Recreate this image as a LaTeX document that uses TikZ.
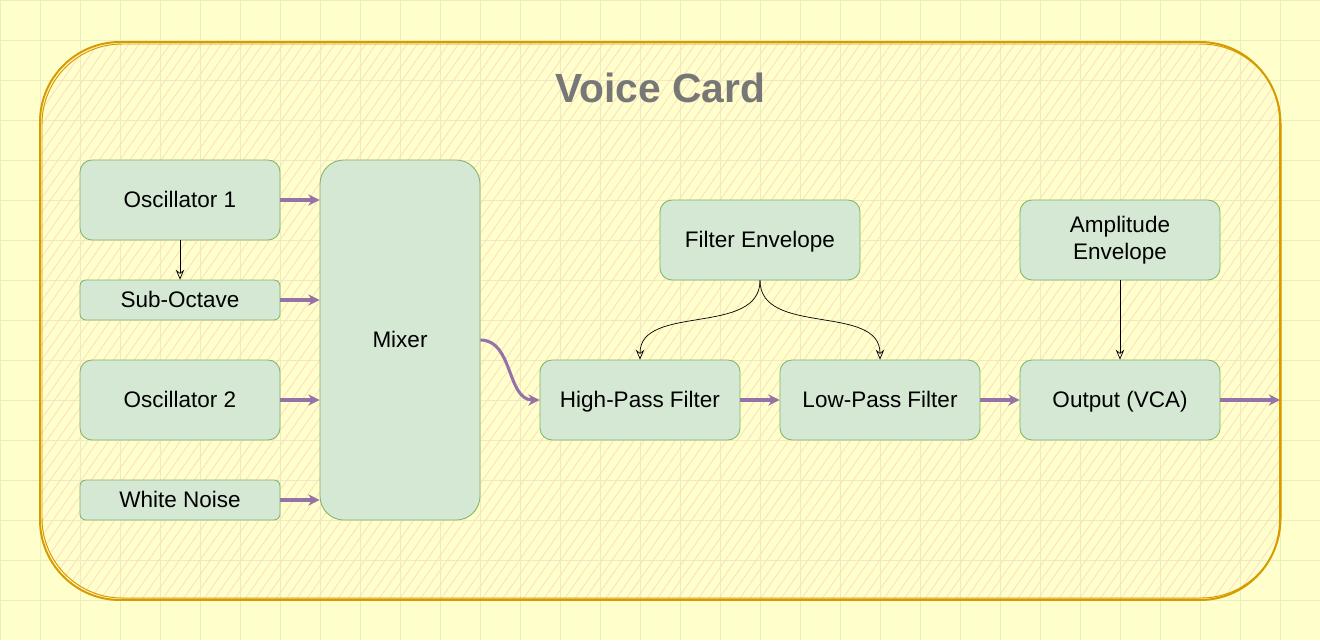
\documentclass[tikz,border=0pt]{standalone}
\usepackage{fontspec}
\setmainfont{Liberation Sans}
\usetikzlibrary{arrows.meta,patterns.meta}
\definecolor{bgyellow}{HTML}{FFFFCC}
\definecolor{gridline}{HTML}{ECECC2}
\definecolor{cardline}{HTML}{D79B00}
\definecolor{hatch}{HTML}{FFDCC4}
\definecolor{boxfill}{HTML}{D5E8D4}
\definecolor{boxline}{HTML}{82B366}
\definecolor{sigline}{HTML}{9673A6}
\definecolor{titlegray}{HTML}{777777}

\begin{document}
\begin{tikzpicture}[x=0.025cm,y=-0.025cm,
		base/.style={fill=boxfill, draw=boxline, line width=0.6pt, rounded corners=3mm, minimum width=5cm, minimum height=2cm, align=center, font=\fontsize{16}{19}\selectfont},
		block/.style={base, text height=1em, text depth=0em},
		slim/.style={block, minimum height=1cm, rounded corners=1.5mm},
		sig/.style={draw=sigline, line width=2.2pt, -{Stealth[length=8pt,width=8pt]}},
		mod/.style={draw=black, line width=0.5pt, -{Stealth[open,length=7pt,width=6pt]}}]
		\fill[bgyellow] (0,0) rectangle (1320,640);
		\useasboundingbox (0,0) rectangle (1320,640);
		\draw[gridline, line width=0.6pt] (0,0) grid[step=1cm] (1320,640);

		\path[pattern={Lines[angle=55,distance=6pt,line width=0.6pt]}, pattern color=hatch, rounded corners=2cm] (40,42) rectangle (1280,600);
		\draw[cardline, line width=1.4pt, rounded corners=2cm] (40,42) rectangle (1280,600);
		\draw[cardline, line width=0.7pt, rounded corners=2cm] (42,44) rectangle (1281,598);

		\node[font=\bfseries\fontsize{29}{34}\selectfont, text=titlegray] (title) at (660,88) {Voice Card};

		\node[block] (osca) at (180,200) {Oscillator 1};
		\node[slim] (sub) at (180,300) {Sub-Octave};
		\node[block] (oscb) at (180,400) {Oscillator 2};
		\node[slim] (noise) at (180,500) {White Noise};
		\node[block, minimum width=4cm, minimum height=9cm, rounded corners=6mm] (mix) at (400,340) {Mixer};

		\node[block] (fenv) at (760,240) {Filter Envelope};
		\node[base] (aenv) at (1120,240) {Amplitude\\Envelope};
		\node[block] (hpf) at (640,400) {High-Pass Filter};
		\node[block] (lpf) at (880,400) {Low-Pass Filter};
		\node[block] (vca) at (1120,400) {Output (VCA)};
		\coordinate (out) at (1280,400);

		\draw[sig] (osca.east) -- (osca.east -| mix.west);
		\draw[sig] (sub.east) -- (sub.east -| mix.west);
		\draw[sig] (oscb.east) -- (oscb.east -| mix.west);
		\draw[sig] (noise.east) -- (noise.east -| mix.west);
		\draw[sig] (mix.east) to[out=0,in=180] (hpf.west);
		\draw[sig] (hpf) -- (lpf);
		\draw[sig] (lpf) -- (vca);
		\draw[sig] (vca.east) -- (out);

		\draw[mod] (osca) -- (sub);
		\draw[mod] (fenv.south) to[out=-90,in=90] (hpf.north);
		\draw[mod] (fenv.south) to[out=-90,in=90] (lpf.north);
		\draw[mod] (aenv) -- (vca);
	\end{tikzpicture}
\end{document}
